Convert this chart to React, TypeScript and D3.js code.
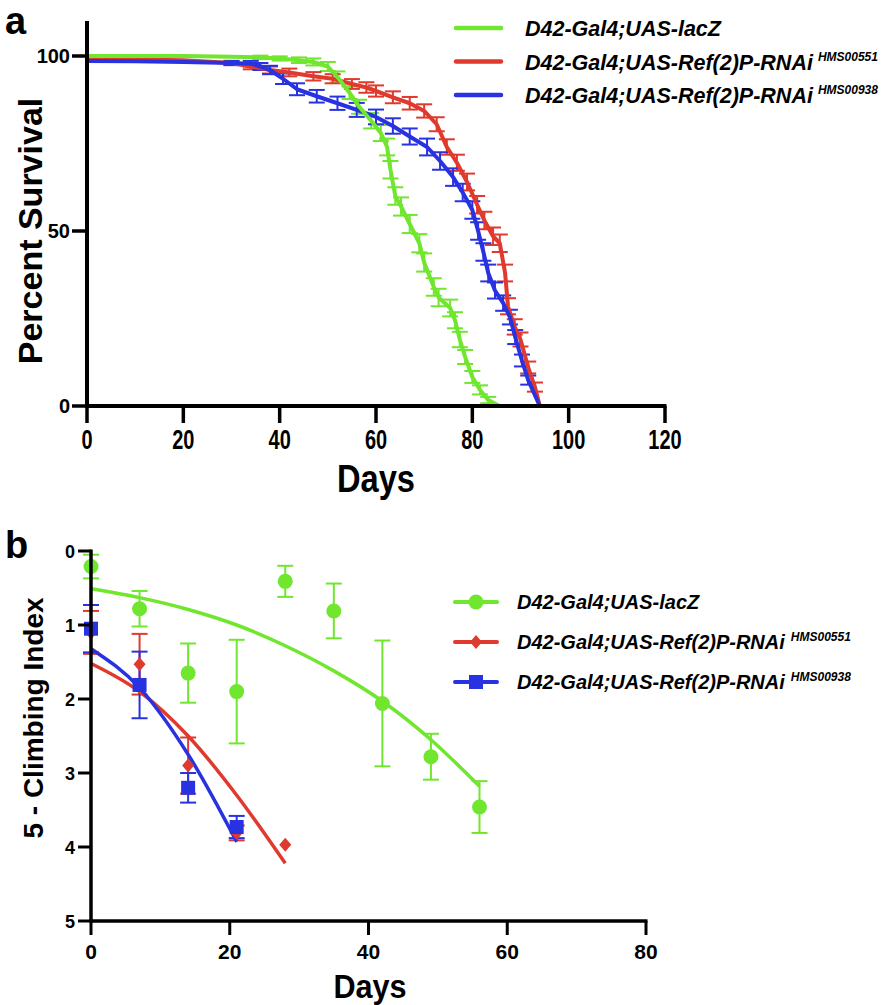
import React from "react";
import * as d3 from "d3";

// ---------- Panel a: survival ----------
const lacZDays = [0, 10, 20, 30, 36, 40, 44, 47, 50, 52, 54.5, 56.5, 59, 61, 62.3, 63, 64, 65.2, 67, 69, 70, 72, 73, 75.4, 76.4, 77.4, 78.5, 80, 81.6, 83.3, 85.7];
const lacZPct = [100, 100, 100, 99.8, 99.6, 99.3, 98.8, 98.3, 97, 94, 89.5, 85.5, 81.5, 78, 74, 67.5, 60, 57, 52, 46.5, 41, 34, 31, 28, 24.5, 19, 14, 8.3, 4.6, 1.7, 0];
const lacZErr = [0, 0, 0, 0, 0.5, 0.6, 0.8, 1, 1.3, 1.6, 1.8, 2, 2.2, 2.3, 2.4, 2.5, 2.5, 2.6, 2.6, 2.6, 2.6, 2.5, 2.5, 2.4, 2.3, 2.2, 2, 1.7, 1.3, 0.9, 0];

const h551Days = [0, 10, 20, 30, 34, 38, 42, 47, 51, 55, 58, 60, 63.5, 67, 70, 72.6, 74.7, 76.8, 78.9, 81, 82.5, 84.3, 85.7, 86.8, 87.4, 88.8, 90, 91.6, 93, 94];
const h551Pct = [99.2, 99, 98.8, 98, 97, 96, 95.3, 94.2, 93.5, 92, 91, 90, 88.2, 86.5, 84.3, 80.5, 74, 69.5, 64, 57.5, 53, 48.5, 46.5, 38, 28.5, 22.6, 19, 11, 5.4, 0];
const h551Err = [0, 0, 0, 0.6, 0.8, 1, 1.1, 1.2, 1.3, 1.4, 1.5, 1.6, 1.7, 1.8, 1.9, 2, 2.2, 2.3, 2.4, 2.5, 2.5, 2.5, 2.5, 2.4, 2.3, 2.2, 2, 1.7, 1.3, 0];

const h938Days = [0, 10, 20, 30, 34, 36, 38, 40.7, 43.6, 47.7, 52, 56, 60, 63.5, 67, 70.6, 73.3, 76, 78, 80, 81.2, 82.3, 83.3, 84.7, 86.4, 87.8, 88.9, 90.3, 91.6, 94];
const h938Pct = [98.6, 98.5, 98.3, 98, 97.8, 97, 96, 93.5, 90.5, 88.5, 86.5, 84.6, 82.6, 80, 77, 74, 70, 65.4, 61, 56, 50, 44, 38, 33, 29.4, 25.4, 19.7, 13, 7.4, 0];
const h938Err = [0, 0, 0, 0.6, 0.8, 1, 1.2, 1.5, 1.7, 1.8, 1.9, 2, 2.1, 2.2, 2.3, 2.4, 2.5, 2.5, 2.5, 2.5, 2.5, 2.5, 2.4, 2.3, 2.2, 2.1, 2, 1.7, 1.3, 0];

const survXTicks = [0, 20, 40, 60, 80, 100, 120];
const survYTicks = [0, 50, 100];

// ---------- Panel b: climbing ----------
const climbDays = [0, 7, 14, 21, 28, 35, 42, 49, 56];
const climbLacZ = [0.21, 0.78, 1.65, 1.9, 0.41, 0.81, 2.06, 2.78, 3.46];
const climbLacZErr = [0.16, 0.24, 0.4, 0.7, 0.21, 0.37, 0.85, 0.31, 0.35];
const fitLacZ = [0.51, 0.63, 0.79, 1.0, 1.28, 1.62, 2.03, 2.55, 3.18];

const climbDaysRnai551 = [0, 7, 14, 21, 28];
const climb551 = [1.1, 1.53, 2.9, 3.81, 3.97];
const climb551Err = [0.29, 0.41, 0.38, 0.1, 0];
const fit551 = [1.52, 1.9, 2.5, 3.3, 4.22];

const climbDaysRnai938 = [0, 7, 14, 21];
const climb938 = [1.05, 1.81, 3.2, 3.73];
const climb938Err = [0.32, 0.45, 0.2, 0.15];
const fit938 = [1.32, 1.85, 2.75, 3.93];

const climbXTicks = [0, 20, 40, 60, 80];
const climbYTicks = [0, 1, 2, 3, 4, 5];

const GREEN = "#70E62E";
const RED = "#E0392E";
const BLUE = "#2832E0";

const labels = [
  { main: "D42-Gal4;UAS-lacZ", sup: "" },
  { main: "D42-Gal4;UAS-Ref(2)P-RNAi", sup: "HMS00551" },
  { main: "D42-Gal4;UAS-Ref(2)P-RNAi", sup: "HMS00938" },
];
const colors = [GREEN, RED, BLUE];

const FONT = "'Liberation Sans', Arial, Helvetica, sans-serif";

function SurvivalPanel() {
  const x = d3.scaleLinear().domain([0, 120]).range([87, 665]);
  const y = d3.scaleLinear().domain([0, 110]).range([406, 21]);
  const series = [
    { d: lacZDays, p: lacZPct, e: lacZErr, c: GREEN },
    { d: h551Days, p: h551Pct, e: h551Err, c: RED },
    { d: h938Days, p: h938Pct, e: h938Err, c: BLUE },
  ];
  const line = d3
    .line<[number, number]>()
    .x((v) => x(v[0]))
    .y((v) => y(v[1]));
  const cap = 8;
  return (
    <g>
      {series.map((s, si) => (
        <g key={"eb" + si} stroke={s.c} strokeWidth={2}>
          {s.d.map((dd, i) =>
            s.e[i] > 0 ? (
              <g key={i}>
                <line x1={x(dd)} x2={x(dd)} y1={y(s.p[i] + s.e[i])} y2={y(s.p[i] - s.e[i])} />
                <line x1={x(dd) - cap} x2={x(dd) + cap} y1={y(s.p[i] + s.e[i])} y2={y(s.p[i] + s.e[i])} />
                <line x1={x(dd) - cap} x2={x(dd) + cap} y1={y(s.p[i] - s.e[i])} y2={y(s.p[i] - s.e[i])} />
              </g>
            ) : null
          )}
        </g>
      ))}
      {[1, 2, 0].map((si) => {
        const s = series[si];
        const pts: [number, number][] = s.d.map((dd, i) => [dd, s.p[i]]);
        return <path key={"ln" + si} d={line(pts) || ""} fill="none" stroke={s.c} strokeWidth={4} strokeLinejoin="round" />;
      })}
      {/* axes */}
      <line x1={x(0)} x2={x(0)} y1={y(110)} y2={y(0) + 2} stroke="#000" strokeWidth={4} />
      <line x1={x(0) - 2} x2={x(120) + 1.5} y1={y(0)} y2={y(0)} stroke="#000" strokeWidth={4} />
      {survXTicks.map((t) => (
        <g key={"xt" + t}>
          <line x1={x(t)} x2={x(t)} y1={y(0)} y2={y(0) + 17} stroke="#000" strokeWidth={3.5} />
          <text
            transform={`translate(${x(t)},449) scale(0.74,1)`}
            textAnchor="middle"
            fontFamily={FONT}
            fontWeight="bold"
            fontSize={27}
          >
            {t}
          </text>
        </g>
      ))}
      {survYTicks.map((t) => (
        <g key={"yt" + t}>
          <line x1={x(0) - 15} x2={x(0)} y1={y(t)} y2={y(t)} stroke="#000" strokeWidth={3.5} />
          <text x={x(0) - 17} y={y(t) + 7} textAnchor="end" fontFamily={FONT} fontWeight="bold" fontSize={20}>
            {t}
          </text>
        </g>
      ))}
      <text
        transform="translate(376,492) scale(0.86,1)"
        textAnchor="middle"
        fontFamily={FONT}
        fontWeight="bold"
        fontSize={38}
      >
        Days
      </text>
      <text
        transform="translate(42,231) rotate(-90)"
        textAnchor="middle"
        fontFamily={FONT}
        fontWeight="bold"
        fontSize={34}
      >
        Percent Survival
      </text>
      <text x={5} y={34} fontFamily={FONT} fontWeight="bold" fontSize={38}>
        a
      </text>
      {/* legend */}
      {labels.map((l, i) => (
        <g key={"lg" + i}>
          <line x1={456} x2={501} y1={28 + i * 33.5} y2={28 + i * 33.5} stroke={colors[i]} strokeWidth={4.5} strokeLinecap="round" />
          <text x={525} y={36 + i * 33.5} fontFamily={FONT} fontWeight="bold" fontStyle="italic" fontSize={21.5}>
            {l.main}
            {l.sup ? (
              <tspan dx={5} dy={-9} fontSize={12}>
                {l.sup}
              </tspan>
            ) : null}
          </text>
        </g>
      ))}
    </g>
  );
}

function ClimbPanel() {
  const x = d3.scaleLinear().domain([0, 80]).range([91, 646]);
  const y = d3.scaleLinear().domain([0, 5]).range([551, 921]);
  const fitLine = d3
    .line<[number, number]>()
    .x((v) => x(v[0]))
    .y((v) => y(v[1]))
    .curve(d3.curveMonotoneX);
  const cap = 8;
  const groups = [
    { d: climbDays, v: climbLacZ, e: climbLacZErr, f: fitLacZ, c: GREEN, shape: "circle" },
    { d: climbDaysRnai551, v: climb551, e: climb551Err, f: fit551, c: RED, shape: "diamond" },
    { d: climbDaysRnai938, v: climb938, e: climb938Err, f: fit938, c: BLUE, shape: "square" },
  ];
  const marker = (shape: string, cx: number, cy: number, c: string, key: string) => {
    if (shape === "circle") return <circle key={key} cx={cx} cy={cy} r={7.5} fill={c} />;
    if (shape === "square") return <rect key={key} x={cx - 7} y={cy - 7} width={14} height={14} fill={c} />;
    return <path key={key} d={`M${cx},${cy - 7}L${cx + 6},${cy}L${cx},${cy + 7}L${cx - 6},${cy}Z`} fill={c} />;
  };
  return (
    <g>
      {groups.map((g, gi) => (
        <g key={"g" + gi}>
          <g stroke={g.c} strokeWidth={2}>
            {g.d.map((dd, i) =>
              g.e[i] > 0 ? (
                <g key={i}>
                  <line x1={x(dd)} x2={x(dd)} y1={y(g.v[i] - g.e[i])} y2={y(g.v[i] + g.e[i])} />
                  <line x1={x(dd) - cap} x2={x(dd) + cap} y1={y(g.v[i] - g.e[i])} y2={y(g.v[i] - g.e[i])} />
                  <line x1={x(dd) - cap} x2={x(dd) + cap} y1={y(g.v[i] + g.e[i])} y2={y(g.v[i] + g.e[i])} />
                </g>
              ) : null
            )}
          </g>
        </g>
      ))}
      {groups.map((g, gi) => {
        const pts: [number, number][] = g.d.map((dd, i) => [dd, g.f[i]]);
        return <path key={"f" + gi} d={fitLine(pts) || ""} fill="none" stroke={g.c} strokeWidth={3.5} />;
      })}
      {groups.map((g, gi) => (
        <g key={"m" + gi}>{g.d.map((dd, i) => marker(g.shape, x(dd), y(g.v[i]), g.c, "mk" + i))}</g>
      ))}
      {/* axes */}
      <line x1={x(0)} x2={x(0)} y1={y(0) - 1.5} y2={y(5) + 1.5} stroke="#000" strokeWidth={3.5} />
      <line x1={x(0) - 1.5} x2={x(80) + 1.5} y1={y(5)} y2={y(5)} stroke="#000" strokeWidth={3.5} />
      {climbXTicks.map((t) => (
        <g key={"xt" + t}>
          <line x1={x(t)} x2={x(t)} y1={y(5)} y2={y(5) + 14} stroke="#000" strokeWidth={3} />
          <text x={x(t)} y={959} textAnchor="middle" fontFamily={FONT} fontWeight="bold" fontSize={21}>
            {t}
          </text>
        </g>
      ))}
      {climbYTicks.map((t) => (
        <g key={"yt" + t}>
          <line x1={x(0) - 13} x2={x(0)} y1={y(t)} y2={y(t)} stroke="#000" strokeWidth={3} />
          <text x={x(0) - 16} y={y(t) + 6.5} textAnchor="end" fontFamily={FONT} fontWeight="bold" fontSize={18}>
            {t}
          </text>
        </g>
      ))}
      <text
        transform="translate(370,998) scale(0.9,1)"
        textAnchor="middle"
        fontFamily={FONT}
        fontWeight="bold"
        fontSize={34}
      >
        Days
      </text>
      <text
        transform="translate(43,718) rotate(-90)"
        textAnchor="middle"
        fontFamily={FONT}
        fontWeight="bold"
        fontSize={28}
      >
        5 - Climbing Index
      </text>
      <text x={5} y={558} fontFamily={FONT} fontWeight="bold" fontSize={38}>
        b
      </text>
      {labels.map((l, i) => {
        const yy = 602 + i * 40;
        return (
          <g key={"lg" + i}>
            <line x1={455} x2={497} y1={yy} y2={yy} stroke={colors[i]} strokeWidth={4} strokeLinecap="round" />
            {marker(groups[i].shape, 476, yy, colors[i], "lm" + i)}
            <text x={517} y={yy + 7} fontFamily={FONT} fontWeight="bold" fontStyle="italic" fontSize={20}>
              {l.main}
              {l.sup ? (
                <tspan dx={6} dy={-8} fontSize={12}>
                  {l.sup}
                </tspan>
              ) : null}
            </text>
          </g>
        );
      })}
    </g>
  );
}

export default function App() {
  return (
    <svg
      width={896}
      height={1005}
      viewBox="0 0 896 1005"
      style={{ position: "absolute", left: 0, top: 0, background: "#fff" }}
    >
      <rect width={896} height={1005} fill="#fff" />
      <SurvivalPanel />
      <ClimbPanel />
    </svg>
  );
}
